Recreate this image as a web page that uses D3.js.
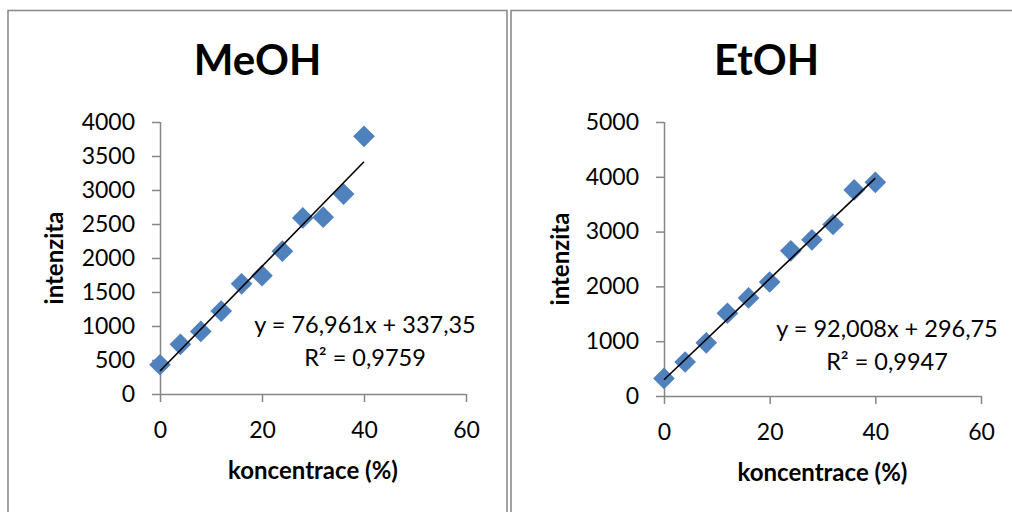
<!DOCTYPE html>
<html>
<head>
<meta charset="utf-8">
<script src="https://cdn.jsdelivr.net/npm/d3@7"></script>
<style>
  html, body { margin: 0; padding: 0; background: #fff; }
  svg { display: block; }
  text { font-family: Lato, "Open Sans", sans-serif; fill: #000; }
</style>
</head>
<body>
<svg id="chart" width="1012" height="512"></svg>
<script>
// Concentration series shared by both calibrations (%)
const concentrations = [0, 4, 8, 12, 16, 20, 24, 28, 32, 36, 40];

// Measured intensities
const meohIntensity = [430, 730, 920, 1220, 1620, 1740, 2100, 2590, 2600, 2940, 3790];
const etohIntensity = [320, 620, 970, 1510, 1790, 2080, 2650, 2850, 3130, 3760, 3900];

// Linear fits (slope, intercept, R²)
const meohFit = [76.961, 337.35, 0.9759];
const etohFit = [92.008, 296.75, 0.9947];

// Axis ticks
const xTicks = [0, 20, 40, 60];
const meohYTicks = [0, 500, 1000, 1500, 2000, 2500, 3000, 3500, 4000];
const etohYTicks = [0, 1000, 2000, 3000, 4000, 5000];

// Titles
const chartTitles = ["MeOH", "EtOH"];
const xAxisTitle = "koncentrace (%)";
const yAxisTitle = "intenzita";

const svg = d3.select("#chart");
const AXIS_COLOR = "#868686";
const MARKER_COLOR = "#4F81BD";
const FONT = "Lato, 'Open Sans', sans-serif";

const dec = v => String(v).replace(".", ",");

function drawPanel(opts) {
  const { box, plot, title, values, fit, yTicks, yMax } = opts;
  const g = svg.append("g");

  // chart frame
  g.append("rect")
    .attr("x", box.x).attr("y", box.y)
    .attr("width", box.w).attr("height", box.h)
    .attr("fill", "#fff")
    .attr("stroke", "#8c8c8c")
    .attr("stroke-width", 1.6);

  const x = d3.scaleLinear().domain([0, 60]).range([plot.x0, plot.x1]);
  const y = d3.scaleLinear().domain([0, yMax]).range([plot.y0, plot.y1]);

  // title
  g.append("text")
    .attr("x", box.x + box.w / 2).attr("y", plot.titleY)
    .attr("text-anchor", "middle")
    .style("font-size", "42px").style("font-weight", "700")
    .text(title);

  // axes
  const xAxis = d3.axisBottom(x).tickValues(xTicks).tickFormat(d3.format("d"))
    .tickSize(8).tickPadding(20).tickSizeOuter(0);
  const yAxis = d3.axisLeft(y).tickValues(yTicks).tickFormat(d3.format("d"))
    .tickSize(8).tickPadding(17).tickSizeOuter(0);

  const gx = g.append("g").attr("transform", `translate(0,${plot.y0})`).call(xAxis);
  const gy = g.append("g").attr("transform", `translate(${plot.x0},0)`).call(yAxis);
  [gx, gy].forEach(a => {
    a.selectAll("path, line").attr("stroke", AXIS_COLOR).attr("stroke-width", 1.5);
    a.selectAll("text").style("font-size", "23px").style("font-family", FONT).attr("fill", "#000");
  });
  gx.select(".domain").attr("d", `M${plot.x0},0.5H${plot.x1}`);
  gy.select(".domain").attr("d", `M0.5,${plot.y0}V${plot.y1}`);

  // axis titles
  g.append("text")
    .attr("x", (plot.x0 + plot.x1) / 2).attr("y", plot.xTitleY)
    .attr("text-anchor", "middle")
    .style("font-size", "24px").style("font-weight", "700")
    .text(xAxisTitle);
  g.append("text")
    .attr("transform", `translate(${plot.yTitleX},${(plot.y0 + plot.y1) / 2}) rotate(-90)`)
    .attr("text-anchor", "middle")
    .style("font-size", "24px").style("font-weight", "700")
    .text(yAxisTitle);

  // data markers
  const pts = concentrations.map((c, i) => [c, values[i]]);
  g.append("g").selectAll("path")
    .data(pts).join("path")
    .attr("d", d3.symbol(d3.symbolDiamond2, 300)())
    .attr("transform", d => `translate(${x(d[0])},${y(d[1])})`)
    .attr("fill", MARKER_COLOR);

  // linear trendline over the data range
  const [slope, intercept, r2] = fit;
  const xs = d3.extent(concentrations);
  g.append("line")
    .attr("x1", x(xs[0])).attr("y1", y(intercept + slope * xs[0]))
    .attr("x2", x(xs[1])).attr("y2", y(intercept + slope * xs[1]))
    .attr("stroke", "#000").attr("stroke-width", 1.6);

  // fit equation
  const eq = g.append("text").attr("text-anchor", "middle").style("font-size", "23.5px");
  eq.append("tspan").attr("x", plot.eqX).attr("y", plot.eqY)
    .text(`y = ${dec(slope)}x + ${dec(intercept)}`);
  eq.append("tspan").attr("x", plot.eqX).attr("y", plot.eqY + 33)
    .text(`R² = ${dec(r2)}`);
}

drawPanel({
  box: { x: 8, y: 10.5, w: 499, h: 520 },
  plot: { x0: 160, x1: 466, y0: 394, y1: 122, titleY: 75, xTitleY: 479, yTitleX: 63, eqX: 365, eqY: 333 },
  title: chartTitles[0], values: meohIntensity, fit: meohFit,
  yTicks: meohYTicks, yMax: 4000
});

drawPanel({
  box: { x: 511, y: 10.5, w: 511, h: 520 },
  plot: { x0: 664, x1: 981, y0: 396, y1: 122, titleY: 75, xTitleY: 481, yTitleX: 569, eqX: 887, eqY: 337 },
  title: chartTitles[1], values: etohIntensity, fit: etohFit,
  yTicks: etohYTicks, yMax: 5000
});
</script>
</body>
</html>
